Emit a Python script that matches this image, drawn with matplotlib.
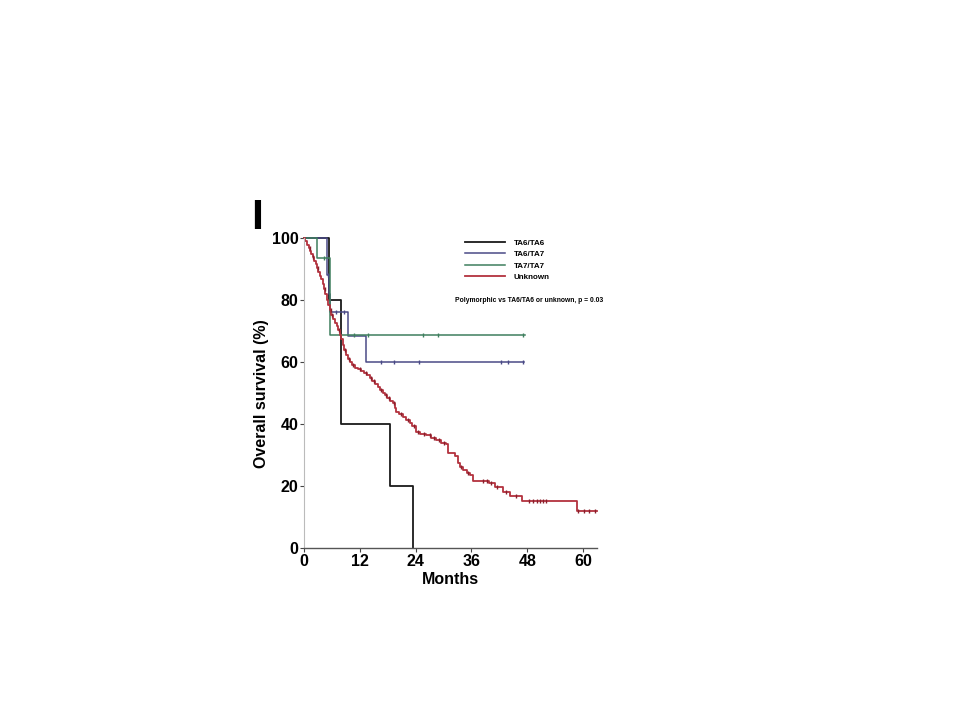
import matplotlib.pyplot as plt

# Kaplan-Meier steps: (months, survival %)
ta66_t = [0, 5.4, 7.9, 8.0, 18.4, 23.5]
ta66_s = [100, 80, 60, 40, 20, 0]

ta67_t = [0, 5.0, 5.3, 5.6, 9.4, 13.4, 47.2]
ta67_s = [100, 88.2, 82.1, 76.2, 68.6, 60.0, 60.0]
ta67_cens_t = [5.2, 6.8, 8.6, 16.6, 19.3, 24.7, 42.3, 43.9, 47.0]
ta67_cens_s = [88.2, 76.2, 76.2, 60, 60, 60, 60, 60, 60]

ta77_t = [0, 2.8, 5.5, 47.5]
ta77_s = [100, 93.75, 68.75, 68.75]
ta77_cens_t = [4.3, 10.8, 13.8, 25.5, 28.8, 47.1]
ta77_cens_s = [93.75, 68.75, 68.75, 68.75, 68.75, 68.75]

unk_t = [0, 0.3, 0.7, 1.0, 1.3, 1.6, 1.9, 2.2, 2.5, 2.8, 3.1, 3.4, 3.7, 4.0,
         4.3, 4.6, 4.9, 5.2, 5.5, 5.9, 6.3, 6.7, 7.0, 7.3, 7.7, 8.0, 8.4,
         8.7, 9.1, 9.5, 9.8, 10.3, 10.9, 11.6, 12.3, 13.0, 13.6, 14.1, 14.6,
         15.2, 15.8, 16.3, 16.9, 17.4, 17.9, 18.5, 19.1, 19.5, 19.8, 20.5,
         21.3, 21.9, 22.7, 23.3, 24.1, 25.0, 26.3, 27.3, 28.4, 29.5, 30.6,
         31.0, 32.4, 33.1, 33.6, 34.2, 35.0, 35.6, 36.3, 39.8, 41.0, 42.8,
         44.2, 46.9, 58.6, 62.9]
unk_s = [100, 99.0, 98.0, 97.0, 96.0, 95.0, 94.0, 92.8, 91.6, 90.4, 89.2,
         88.0, 86.8, 85.2, 83.6, 82.0, 80.2, 78.5, 77.0, 75.3, 74.0, 72.8,
         71.8, 70.4, 68.8, 67.4, 65.6, 64.0, 62.4, 61.2, 60.2, 59.2, 58.1,
         57.7, 57.2, 56.6, 56.0, 54.8, 54.0, 53.0, 52.0, 51.1, 50.0, 49.4,
         48.6, 47.6, 46.8, 45.4, 44.1, 43.3, 42.5, 41.4, 40.3, 39.3, 37.6,
         37.0, 36.5, 35.6, 34.9, 34.1, 33.6, 30.6, 29.7, 27.4, 26.3, 25.3,
         24.4, 23.6, 21.8, 21.1, 19.9, 18.3, 16.9, 15.4, 12.1, 12.1]
unk_cens_t = [1.2, 2.0, 3.0, 4.5, 5.7, 6.1, 7.5, 8.8, 9.6, 10.6, 12.0, 13.3,
              14.4, 15.0, 16.6, 17.6, 18.2, 19.3, 20.9, 22.4, 23.7, 24.6,
              25.7, 27.0, 28.0, 29.0, 30.1, 33.8, 35.3, 38.5, 39.3, 40.2,
              41.6, 43.5, 45.5, 48.3, 49.3, 50.0, 50.7, 51.4, 52.1, 59.0,
              60.1, 61.2, 62.6]

c_black = '#1a1a1a'
c_blue = '#4a4a86'
c_green = '#3e7f5e'
c_red = '#b3323e'


def surv_at(t, times, surv):
    val = surv[0]
    for tt, ss in zip(times, surv):
        if tt <= t:
            val = ss
    return val


fig = plt.figure(figsize=(9.6, 7.2), dpi=100)
ax = fig.add_axes([0.3167, 0.2385, 0.3052, 0.4305])

ax.step(ta66_t, ta66_s, where='post', color=c_black, lw=1.3, label='TA6/TA6', clip_on=False)
ax.step(ta67_t, ta67_s, where='post', color=c_blue, lw=1.1, label='TA6/TA7', clip_on=False)
ax.step(ta77_t, ta77_s, where='post', color=c_green, lw=1.1, label='TA7/TA7', clip_on=False)
ax.step(unk_t, unk_s, where='post', color=c_red, lw=1.3, label='Unknown', clip_on=False)

ax.plot(ta67_cens_t, ta67_cens_s, ls='none', marker='|', ms=3, mew=1, color=c_blue)
ax.plot(ta77_cens_t, ta77_cens_s, ls='none', marker='|', ms=3, mew=1, color=c_green)
unk_cens_s = [surv_at(t, unk_t, unk_s) for t in unk_cens_t]
ax.plot(unk_cens_t, unk_cens_s, ls='none', marker='|', ms=3, mew=1, color='#8a1f2c')

ax.set_xlim(0, 63)
ax.set_ylim(0, 100)
ax.set_xticks([0, 12, 24, 36, 48, 60])
ax.set_yticks([0, 20, 40, 60, 80, 100])
for lab in ax.get_xticklabels() + ax.get_yticklabels():
    lab.set_fontweight('bold')
    lab.set_fontsize(11.5)
    lab.set_family('Liberation Sans')
ax.tick_params(axis='both', length=3, width=0.8, color='#444444', pad=1)
ax.spines['top'].set_visible(False)
ax.spines['right'].set_visible(False)
ax.spines['left'].set_color('#bbbbbb')
ax.spines['left'].set_linewidth(0.8)
ax.spines['bottom'].set_color('#555555')
ax.spines['bottom'].set_linewidth(1.0)

ax.set_xlabel('Months', fontsize=11.5, fontweight='bold', family='Liberation Sans', labelpad=2)
ax.set_ylabel('Overall survival (%)', fontsize=11.5, fontweight='bold', family='Liberation Sans', labelpad=2)

leg = ax.legend(loc='upper left', bbox_to_anchor=(0.525, 1.02), frameon=False,
                prop={'family': 'Liberation Sans', 'weight': 'bold', 'size': 5.8},
                handlelength=5.0, labelspacing=0.45, handletextpad=1.0)
ax.text(0.515, 0.8, 'Polymorphic vs TA6/TA6 or unknown, p = 0.03', transform=ax.transAxes,
        fontsize=4.9, fontweight='bold', family='Liberation Sans', va='center', ha='left')

fig.text(0.2615, 0.697, 'I', fontsize=31, fontweight='bold', family='Liberation Sans',
         ha='left', va='center')

fig.savefig('out.png', dpi=100)
